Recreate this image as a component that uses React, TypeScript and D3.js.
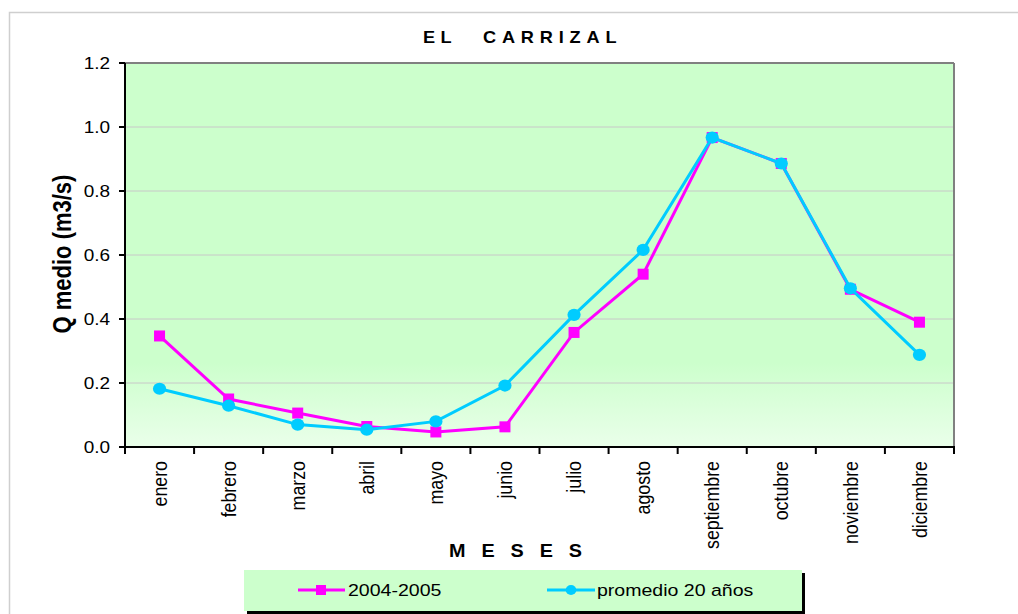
import React from "react";
import * as d3 from "d3";

const months = ["enero", "febrero", "marzo", "abril", "mayo", "junio", "julio", "agosto", "septiembre", "octubre", "noviembre", "diciembre"];
const serie2004 = [0.347, 0.150, 0.106, 0.064, 0.047, 0.063, 0.358, 0.540, 0.967, 0.886, 0.493, 0.390];
const promedio = [0.182, 0.129, 0.070, 0.054, 0.080, 0.192, 0.413, 0.616, 0.967, 0.886, 0.496, 0.288];
const yTicks = [0, 0.2, 0.4, 0.6, 0.8, 1.0, 1.2];
const seriesNames = ["2004-2005", "promedio 20 años"];

const W = 1018, H = 614;
const PL = 125, PR = 954, PT = 63, PB = 447;
const PINK = "#FF00FF", CYAN = "#00CCFF";
const FONT = "'Liberation Sans', Arial, sans-serif";
const SX = 1.15;

export default function App() {
  const x = d3.scaleBand<string>().domain(months).range([PL, PR]).padding(0);
  const y = d3.scaleLinear().domain([0, 1.2]).range([PB, PT]);
  const cx = (m: string) => (x(m) as number) + x.bandwidth() / 2;
  const line = d3.line<number>().x((_, i) => cx(months[i])).y((v) => y(v));
  const bounds = months.map((m) => x(m) as number).concat([PR]);

  return (
    <svg width={W} height={H} style={{ position: "absolute", left: 0, top: 0, background: "#fff" }} fontFamily={FONT}>
      <defs>
        <linearGradient id="pg" x1="0" y1="0" x2="0" y2="1">
          <stop offset="0" stopColor="#CCFFCC" />
          <stop offset="0.78" stopColor="#CCFFCC" />
          <stop offset="1" stopColor="#EAFFEA" />
        </linearGradient>
      </defs>
      {/* outer frame */}
      <rect x={9.5} y={12.5} width={W + 20} height={H + 20} fill="#fff" stroke="#cfcfcf" strokeWidth={1.5} />
      {/* title */}
      <text transform={`translate(423,43) scale(1.1,1)`} fontSize={16.5} fontWeight="bold" letterSpacing={5}>EL</text>
      <text transform={`translate(483,43) scale(1.1,1)`} fontSize={16.5} fontWeight="bold" letterSpacing={5.3}>CARRIZAL</text>
      {/* plot area */}
      <rect x={PL} y={PT} width={PR - PL} height={PB - PT} fill="url(#pg)" />
      {yTicks.slice(1, -1).map((t) => (
        <line key={"g" + t} x1={PL} x2={PR} y1={y(t)} y2={y(t)} stroke="#C8C8C8" strokeWidth={1} />
      ))}
      <line x1={PL} x2={PR} y1={PT} y2={PT} stroke="#808080" strokeWidth={2} />
      <line x1={PR} x2={PR} y1={PT} y2={PB} stroke="#808080" strokeWidth={2} />
      <line x1={PL} x2={PL} y1={PT} y2={PB + 1} stroke="#000" strokeWidth={2} />
      <line x1={PL - 1} x2={PR + 1} y1={PB} y2={PB} stroke="#000" strokeWidth={2} />
      {yTicks.map((t) => (
        <g key={"t" + t}>
          <line x1={PL - 6} x2={PL} y1={y(t)} y2={y(t)} stroke="#000" strokeWidth={2} />
          <text transform={`translate(${PL - 15},${y(t)}) scale(${SX},1)`} textAnchor="end" dy="0.35em" fontSize={16.5}>
            {t.toFixed(1)}
          </text>
        </g>
      ))}
      {bounds.map((b, i) => (
        <line key={"xt" + i} x1={b} x2={b} y1={PB} y2={PB + 7} stroke="#000" strokeWidth={2} />
      ))}
      {months.map((m) => (
        <text key={"xl" + m} transform={`translate(${cx(m)},461) rotate(-90) scale(1,${SX})`} textAnchor="end" dy="0.35em" fontSize={17.8}>
          {m}
        </text>
      ))}
      {/* axis titles */}
      <text transform={`translate(62,254) rotate(-90) scale(1,${SX})`} textAnchor="middle" dy="0.35em" fontSize={22} fontWeight="bold">
        Q medio (m3/s)
      </text>
      <text transform={`translate(449,557) scale(1.1,1)`} fontSize={18} fontWeight="bold" letterSpacing={14.5}>MESES</text>
      {/* series */}
      <path d={line(serie2004) as string} fill="none" stroke={PINK} strokeWidth={3} />
      {serie2004.map((v, i) => (
        <rect key={"p" + i} x={cx(months[i]) - 5.5} y={y(v) - 5.5} width={11} height={11} fill={PINK} />
      ))}
      <path d={line(promedio) as string} fill="none" stroke={CYAN} strokeWidth={3} />
      {promedio.map((v, i) => (
        <ellipse key={"c" + i} cx={cx(months[i])} cy={y(v)} rx={6.6} ry={6.1} fill={CYAN} />
      ))}
      {/* legend */}
      <rect x={247} y={573} width={558} height={41} fill="#000" />
      <rect x={244} y={570} width={558} height={41} fill="#CCFFCC" />
      <line x1={298} x2={345} y1={590} y2={590} stroke={PINK} strokeWidth={3} />
      <rect x={316} y={585} width={10} height={10} fill={PINK} />
      <text transform={`translate(348,590) scale(${SX},1)`} dy="0.35em" fontSize={17}>{seriesNames[0]}</text>
      <line x1={547} x2={595} y1={590} y2={590} stroke={CYAN} strokeWidth={3} />
      <ellipse cx={571} cy={590} rx={5.3} ry={5} fill={CYAN} />
      <text transform={`translate(597,590) scale(${SX},1)`} dy="0.35em" fontSize={17}>{seriesNames[1]}</text>
    </svg>
  );
}
